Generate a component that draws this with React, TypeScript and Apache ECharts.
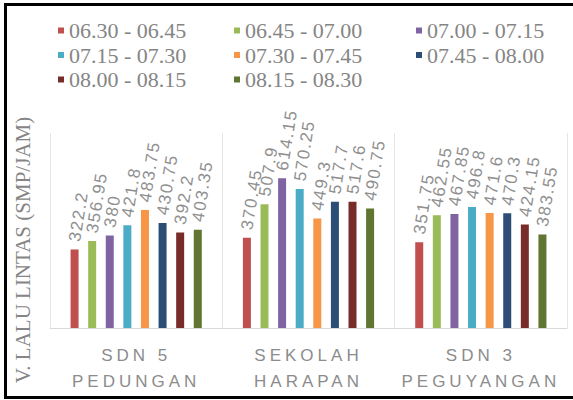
import React, { useEffect, useRef } from "react";
import * as echarts from "echarts";

const categories = ["SDN 5\nPEDUNGAN", "SEKOLAH\nHARAPAN", "SDN 3\nPEGUYANGAN"];
const seriesNames = [
  "06.30 - 06.45",
  "06.45 - 07.00",
  "07.00 - 07.15",
  "07.15 - 07.30",
  "07.30 - 07.45",
  "07.45 - 08.00",
  "08.00 - 08.15",
  "08.15 - 08.30",
];
const s0630 = [322.2, 370.45, 351.75];
const s0645 = [356.95, 507.9, 462.55];
const s0700 = [380, 614.15, 467.85];
const s0715 = [421.8, 570.25, 496.8];
const s0730 = [483.75, 449.3, 471.6];
const s0745 = [430.75, 517.7, 470.3];
const s0800 = [392.2, 517.6, 424.15];
const s0815 = [403.35, 490.75, 383.55];
const seriesValues = [s0630, s0645, s0700, s0715, s0730, s0745, s0800, s0815];
const colors = ["#c0504d", "#9bbb59", "#8064a2", "#4bacc6", "#f79646", "#2c4d75", "#772c2a", "#5f7530"];
const yTitle = "V. LALU LINTAS (SMP/JAM)";

export default function App() {
  const ref = useRef<HTMLDivElement>(null);
  useEffect(() => {
    if (!ref.current) return;
    const chart = echarts.init(ref.current, undefined, { renderer: "svg" });
    const legendBase = {
      orient: "vertical" as const,
      top: 14.5,
      icon: "rect",
      itemWidth: 6,
      itemHeight: 6,
      itemGap: 2.5,
      textStyle: { fontFamily: "Liberation Serif", fontSize: 22, color: "#858585" },
    };
    chart.setOption({
      animation: false,
      backgroundColor: "#ffffff",
      color: colors,
      legend: [
        { ...legendBase, left: 53, data: [seriesNames[0], seriesNames[3], seriesNames[6]] },
        { ...legendBase, left: 229, data: [seriesNames[1], seriesNames[4], seriesNames[7]] },
        { ...legendBase, left: 411, data: [seriesNames[2], seriesNames[5]] },
      ],
      grid: { left: 50, right: 6, top: 133, bottom: 72 },
      xAxis: {
        type: "category",
        data: categories,
        axisTick: { show: false },
        axisLine: { lineStyle: { color: "#d9d9d9" } },
        splitLine: { show: true, lineStyle: { color: "#e6e6e6" } },
        axisLabel: {
          fontFamily: "Liberation Sans",
          fontSize: 17,
          lineHeight: 26,
          color: "#8c8c8c",
          margin: 14,
          interval: 0,
        },
      },
      yAxis: {
        type: "value",
        min: 0,
        max: 800,
        show: false,
        splitLine: { show: false },
      },
      graphic: [
        {
          type: "rect",
          shape: { x: 5.5, y: 4.5, width: 600, height: 393 },
          style: { fill: "none", stroke: "#000000", lineWidth: 3 },
          silent: true,
        },
        {
          type: "text",
          x: 23,
          y: 250,
          rotation: Math.PI / 2,
          style: {
            text: yTitle,
            fontFamily: "Liberation Serif",
            fontSize: 21,
            fill: "#858585",
            align: "center",
            verticalAlign: "middle",
          },
        },
      ],
      series: seriesNames.map((name, i) => ({
        name,
        type: "bar",
        data: seriesValues[i],
        barWidth: 8,
        barGap: "120%",
        label: {
          show: true,
          position: "top",
          rotate: 81,
          align: "left",
          verticalAlign: "middle",
          distance: 8,
          fontFamily: "Liberation Sans",
          fontSize: 17,
          color: "#8f8f8f",
        },
      })),
    });
    // widen letter spacing of category and value labels as in the reference
    const catLines = new Set(categories.flatMap((c) => c.split("\n")));
    ref.current.querySelectorAll("text").forEach((t) => {
      const s = (t.textContent || "").trim();
      if (catLines.has(s)) {
        (t as SVGTextElement).style.letterSpacing = "4px";
      } else if (/^\d+(\.\d+)?$/.test(s)) {
        (t as SVGTextElement).style.letterSpacing = "1.6px";
      }
    });
    return () => chart.dispose();
  }, []);
  return (
    <div
      ref={ref}
      style={{ position: "absolute", left: 0, top: 0, width: 573, height: 400 }}
    />
  );
}
